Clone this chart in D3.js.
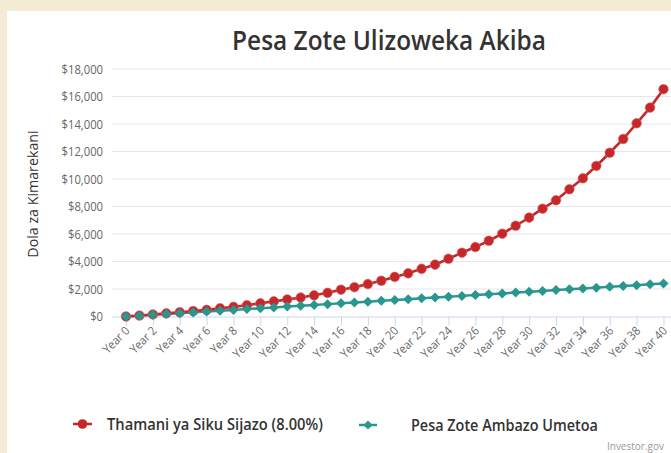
<!DOCTYPE html>
<html>
<head>
<meta charset="utf-8">
<script src="https://cdn.jsdelivr.net/npm/d3@7"></script>
<style>
  html, body { margin: 0; padding: 0; background: #f4ebd7; }
  svg { display: block; }
</style>
</head>
<body>
<script>
// ---- data ----
const years = d3.range(0, 41);
const yearLabels = years.map(y => "Year " + y);
const futureValue = [0, 70, 150, 230, 310, 400, 480, 600, 700, 820, 960, 1100, 1240, 1380, 1540, 1720, 1950, 2130, 2360, 2600, 2880, 3140, 3470, 3770, 4200, 4640, 5050, 5510, 6020, 6600, 7190, 7840, 8450, 9250, 10050, 10950, 11910, 12910, 14050, 15190, 16530];
const contributions = [0, 60, 120, 180, 240, 300, 360, 420, 480, 540, 600, 660, 720, 780, 840, 900, 960, 1020, 1080, 1140, 1200, 1260, 1320, 1380, 1440, 1500, 1560, 1620, 1680, 1740, 1800, 1860, 1920, 1980, 2040, 2100, 2160, 2220, 2280, 2340, 2400];
const yTicks = [0, 2000, 4000, 6000, 8000, 10000, 12000, 14000, 16000, 18000];
const seriesNames = ["Thamani ya Siku Sijazo (8.00%)", "Pesa Zote Ambazo Umetoa"];
const title = "Pesa Zote Ulizoweka Akiba";
const yTitle = "Dola za Kimarekani";
const credit = "Investor.gov";

const W = 671, H = 453;
const red = "#c4282a", teal = "#2a9690";
const font = "'Open Sans', 'Noto Sans', sans-serif";

const svg = d3.select("body").append("svg").attr("width", W).attr("height", H);
svg.append("rect").attr("x", 0).attr("y", 0).attr("width", W).attr("height", H).attr("fill", "#f4ebd7");
svg.append("rect").attr("x", 7).attr("y", 11).attr("width", W - 7).attr("height", H - 11).attr("fill", "#ffffff");

const plotLeft = 112, plotRight = 671;
const x = d3.scalePoint().domain(years).range([126, 663.5]);
const y = d3.scaleLinear().domain([0, 18000]).range([316.5, 69]);

// narrow text helper: squeeze horizontally to a target width
function squeeze(sel, tx, ty, target) {
  sel.attr("x", 0).attr("y", 0);
  const w = sel.node().getComputedTextLength();
  sel.attr("transform", `translate(${tx},${ty}) scale(${(target / w).toFixed(4)},1)`);
}

// gridlines
svg.append("g").selectAll("line").data(yTicks.slice(1)).join("line")
  .attr("x1", plotLeft).attr("x2", plotRight)
  .attr("y1", d => y(d)).attr("y2", d => y(d))
  .attr("stroke", "#e6e6e6").attr("stroke-width", 1);

// y axis labels
const fmt = d => "$" + d3.format(",")(d);
const yAxis = d3.axisLeft(y).tickValues(yTicks).tickFormat(fmt).tickSize(0).tickPadding(0);
const gy = svg.append("g").attr("transform", "translate(103,0)").call(yAxis);
gy.select(".domain").remove();
gy.selectAll("text").attr("font-family", font).attr("font-size", 12.5).attr("fill", "#666")
  .attr("x", 0).attr("transform", "scale(0.9,1)");

// x axis
const xAxis = d3.axisBottom(x).tickValues(years.filter(d => d % 2 === 0)).tickFormat(d => yearLabels[d]).tickSize(9).tickSizeOuter(0);
const gx = svg.append("g").attr("transform", `translate(0,${y(0)})`).call(xAxis);
gx.select(".domain").attr("d", `M${plotLeft},0.5H${plotRight}`).attr("stroke", "#ccd6eb");
gx.selectAll(".tick line").attr("stroke", "#ccd6eb");
gx.selectAll("text")
  .attr("font-family", font).attr("font-size", 12).attr("fill", "#666")
  .attr("text-anchor", "end").attr("dy", null).attr("y", 0)
  .attr("transform", "translate(4,15) rotate(-45) scale(0.92,1)");

// lines
const line = (arr) => d3.line().x((d, i) => x(years[i])).y(d => y(d))(arr);
svg.append("path").attr("d", line(contributions)).attr("fill", "none").attr("stroke", teal).attr("stroke-width", 2.5);
svg.append("path").attr("d", line(futureValue)).attr("fill", "none").attr("stroke", red).attr("stroke-width", 2.6);

// red markers
svg.append("g").selectAll("circle").data(futureValue).join("circle")
  .attr("cx", (d, i) => x(years[i])).attr("cy", d => y(d)).attr("r", 4.8)
  .attr("fill", red).attr("stroke", "#e15a5c").attr("stroke-width", 0.6);
// teal markers (diamonds)
const diamond = (cx, cy, r) => `M${cx},${cy - r}L${cx + r},${cy}L${cx},${cy + r}L${cx - r},${cy}Z`;
svg.append("g").selectAll("path").data(contributions).join("path")
  .attr("d", (d, i) => diamond(x(years[i]), y(d), 5))
  .attr("fill", teal);

// title
const tt = svg.append("text").attr("text-anchor", "middle")
  .attr("font-family", font).attr("font-weight", 600).attr("font-size", 27).attr("fill", "#333")
  .text(title);
squeeze(tt, 389, 50, 314);

// y title
svg.append("text").attr("transform", "translate(38,194) rotate(-90) scale(0.95,1)").attr("text-anchor", "middle")
  .attr("font-family", font).attr("font-size", 15).attr("fill", "#333").text(yTitle);

// legend
const lg = svg.append("g");
lg.append("line").attr("x1", 73).attr("x2", 92).attr("y1", 424).attr("y2", 424).attr("stroke", red).attr("stroke-width", 2.5);
lg.append("circle").attr("cx", 82.5).attr("cy", 424).attr("r", 4.8).attr("fill", red);
const l1 = lg.append("text").attr("font-family", font).attr("font-weight", 600).attr("font-size", 16).attr("fill", "#333").text(seriesNames[0]);
squeeze(l1, 107, 430, 216);
lg.append("line").attr("x1", 359).attr("x2", 377).attr("y1", 425).attr("y2", 425).attr("stroke", teal).attr("stroke-width", 2.5);
lg.append("path").attr("d", diamond(368, 425, 4.5)).attr("fill", teal);
const l2 = lg.append("text").attr("font-family", font).attr("font-weight", 600).attr("font-size", 16).attr("fill", "#333").text(seriesNames[1]);
squeeze(l2, 411, 431, 187);

// credit
svg.append("text").attr("x", 664).attr("y", 450).attr("text-anchor", "end")
  .attr("font-family", font).attr("font-size", 10).attr("fill", "#999").text(credit);
</script>
</body>
</html>
